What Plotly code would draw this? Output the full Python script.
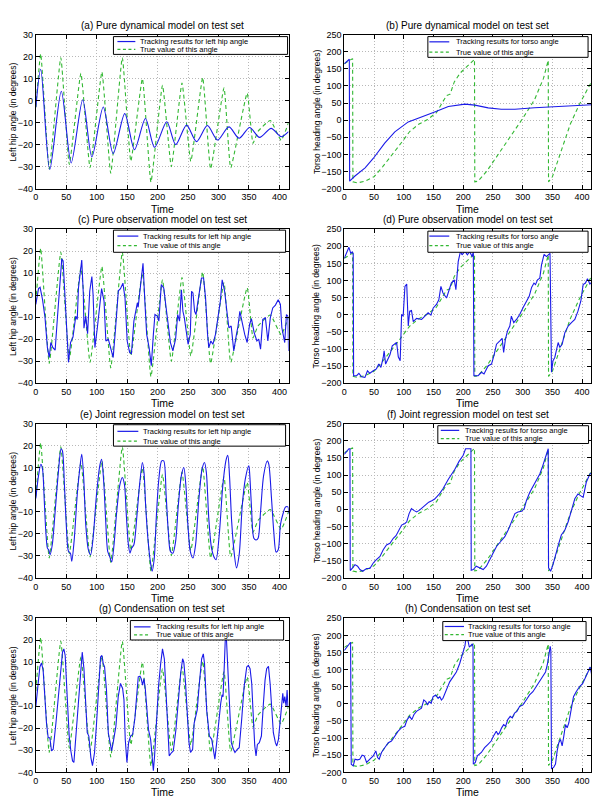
import plotly.graph_objects as go

# ---------------- data ----------------
X_TICKS = list(range(0, 401, 50))
HIP_TICKS = list(range(-40, 31, 10))
TORSO_TICKS = list(range(-200, 251, 50))
X_RANGE = [0, 415]
HIP_RANGE = [-40, 30]
TORSO_RANGE = [-200, 250]

TITLES = ["(a) Pure dynamical model on test set", "(b) Pure dynamical model on test set",
          "(c) Pure observation model on test set", "(d) Pure observation model on test set",
          "(e) Joint regression model on test set", "(f) Joint regression model on test set",
          "(g) Condensation on test set", "(h) Condensation on test set"]
HIP_LEGEND = ["Tracking results for left hip angle", "True value of this angle"]
TORSO_LEGEND = ["Tracking results for torso angle", "True value of this angle"]
HIP_YLABEL = "Left hip angle (in degrees)"
TORSO_YLABEL = "Torso heading angle (in degrees)"
X_LABEL = "Time"

# true left hip angle (same in a, c, e, g)
true_hip = [(0, -3), (8, 21.3), (22, -31), (41, 19.5), (55, -29), (74, 12.4), (89, -30.5),
            (108.5, 13), (123, -33), (142, 19.5), (156, -27.5), (175, 10), (189, -37),
            (208, 7), (222.5, -30), (240, 8), (254.5, -27.6), (274, 10.5), (287, -31),
            (309, 5.8), (320, -30.5), (347, 3.4), (356.6, -19.4), (364.7, -14),
            (385, -9), (402.7, -18), (415, -10)]

# true torso heading angle (same in b, d, f, h)
true_torso = [(0, 165), (6, 172), (14, 180), (14.5, -180), (22, -183), (35, -178), (50, -165),
              (65, -135), (80, -103), (95, -68), (110, -33), (125, -12), (140, 2), (155, 22),
              (165, 52), (172, 72), (178, 76), (185, 112), (195, 138), (208, 160), (219, 178),
              (219.5, -180), (225, -178), (240, -148), (260, -98), (280, -48), (300, 5),
              (320, 60), (335, 122), (343, 175), (343.5, -180), (350, -165), (365, -90),
              (380, -12), (395, 45), (405, 78), (415, 110)]

dyn_hip = [(0, -3), (8, 14.3), (22.8, -31.3), (41.8, 4.3), (58, -28.3), (77, 0.4), (92, -25.6),
           (110.7, -2.9), (127, -24.1), (146, -5.9), (162, -22.3), (180, -8.1), (195, -21.2),
           (215, -9.6), (229.6, -20), (247.5, -11.1), (263.8, -18.6), (281.7, -11.3),
           (298.5, -17.9), (317, -11.9), (333.8, -17.1), (351, -12.2), (367.4, -16.7),
           (386.4, -12.6), (402.7, -16.4), (415, -14.1)]

dyn_torso = [(0, 165), (8.5, 178), (9, -178), (18, -163), (35, -139), (49, -111), (68, -67),
             (85, -34), (107.6, -5), (124, 5), (152, 24), (175, 40), (203, 47), (219.6, 44),
             (242, 36), (264, 32), (287, 32), (320, 36.5), (354, 40), (417, 45)]

obs_hip = [(0, -4.2), (4.4, 3), (7, 3.6), (11, -2), (15, -10), (19, -23.8), (22, -28.3),
           (24.6, -21.5), (28, -23.8), (31.7, -25), (35.5, -10), (39, 4.8), (42.6, 16.5),
           (44.8, 15.6), (48, -2.7), (51, -22), (53.6, -30.5), (57, -21.5), (61, -19),
           (65.6, -9.5), (68, -11), (70, 3.3), (75.4, 16), (78, 0.3), (79, -15), (82, -9.5),
           (85, -17.5), (88.5, 1.8), (92, 8.5), (94, 0.3), (97, -23.8), (101, -14.8),
           (105, -5.8), (108, 3), (112, -2.7), (115, -20.8), (119, -20), (123, -23.8),
           (127, -28.3), (131, -14.8), (135.5, 2), (139, 3), (143, 5.5), (146.4, -1.2),
           (150, -20.8), (154, -26), (157, -26.5), (161, -11.8), (166.7, -3.5), (168, -5.5),
           (172, 6.3), (176, 14.5), (179, -2.7), (182, -17.8), (186, -23.8), (189.6, -32),
           (193, -17.8), (195.6, -8.8), (199.5, -9.5), (202, -11.8), (206, 4.8), (210, 3.3),
           (214, -5.8), (217.5, -13.3), (221, -21.5), (225, -25.3), (229.5, -20),
           (233, -8.8), (236, -11.8), (239, 2.5), (241.5, -7.3), (243.7, -10), (247, -16.3),
           (250, -22.3), (253.6, -17.8), (255.7, 1.8), (258, 1), (260.7, -7.3), (263, -8.8),
           (268, 0.3), (272, 7.8), (275.4, 7.8), (278.7, -1.2), (282, -17.8), (284, -23.8),
           (287.4, -20.8), (290.7, -22.3), (295, -17.8), (299.5, -10.3), (303, -2.7),
           (306, 7), (310, 1.8), (314, -8), (317, -14.8), (320.8, -14), (325, -25.3),
           (329, -18.5), (332, -14), (335, -7.3), (339, -13.3), (343, -17.8), (347, -21.5),
           (351, -13.3), (354, -10.6), (358.5, -17), (363, -20.8), (366, -20), (369, -24.5),
           (372.7, -11), (377, -10.3), (381, -20.8), (385, -10.3), (389, -5.8),
           (393.4, -4.5), (398, -2.1), (401.6, -4.2), (404, -14.8), (408.7, -21.5),
           (411.5, -8.8), (414, -9.5), (415, -25.3)]

obs_torso = [(0, 165), (4, 184), (7.8, 197), (11, 179.5), (13.4, 184), (15, 179.5), (15.7, -178),
             (20.7, -178), (24.6, -171), (29, -181), (34.7, -183), (39, -163.6), (43, -171),
             (48.7, -163.6), (54, -158), (58, -144), (61.6, -153.6), (65.5, -124.7),
             (67, -105), (69.5, -144), (72.8, -132), (76.8, -117), (80.7, -91), (85, -86),
             (88, -81), (90.8, -122.6), (94, -134), (96.4, 1), (99, -4), (102, 83),
             (105, 89.7), (107.6, -33), (110, 10.5), (113, 12.5), (116, -20), (121.6, -10.7),
             (130, -13.6), (135.6, -4), (141, 5.7), (145.7, -1), (149.6, 20), (155, 30),
             (159, 44), (162.5, 83), (166, 63.6), (172, 49), (176, 73), (180, 92.6),
             (185, 102), (187.7, 73), (191.6, 155), (195.5, 186), (198, 175), (203, 186),
             (207, 175), (211, 184), (215, 170), (217, 184), (218, -178), (225, -178),
             (230.8, -168), (235, -173), (242, -149), (247.6, -144), (252, -117), (256, -86),
             (261.6, -76), (265.5, -68.6), (268, -110), (271, -71.6), (274.5, -47),
             (278.4, -33), (281, -4), (285, -23), (289.6, -13.6), (295, 1), (301, 22),
             (306.4, 39.5), (311, 54), (315, 80), (319, 92.6), (321.6, 88), (325, 102),
             (328.8, 107), (331.7, 145.7), (336, 176.6), (340, 170), (344, 176.6),
             (346, 179.5), (348.5, -168), (351, -134), (354, -124.7), (357, -95.7),
             (359.7, -81), (362.5, -95.7), (366.4, -86), (371, -52), (376.5, -33), (382, -23),
             (387.7, -13.6), (393, 10.5), (397.8, 39.5), (401.7, 88), (405.6, 92.6),
             (409, 105), (413, 89.7), (417, 97)]

joint_hip = [(0, -4), (4.4, 6.4), (8.2, 11.6), (11, 9.4), (13.7, -4), (16.4, -19), (19, -26.5),
             (21, -27.3), (23.5, -29.5), (27, -25), (31.7, -10), (37, 7.9), (41.5, 18.6),
             (43.7, 17.6), (47, 1.9), (50, -16), (53.6, -28), (56.8, -28.8), (59, -32.5),
             (62.8, -23.5), (68.3, -1.1), (72.7, 10.9), (75.4, 16.1), (78.7, 4.9), (82, -16),
             (86.3, -27.3), (90, -29.5), (94, -22), (99.5, -2.6), (105, 10.9), (108, 13.8),
             (111.5, 3.4), (114.8, -14.6), (118, -28), (121.3, -30.3), (124.6, -32.8),
             (128.4, -25), (132.8, -10), (137.7, 1.9), (142, 5.6), (145.4, 2.6),
             (148.6, -11.6), (152, -25), (154.6, -28.8), (157.4, -26.5), (161, -25),
             (165.6, -13), (170.5, 2.6), (175, 12.4), (177.6, 7.9), (180.3, -7), (184, -22),
             (188, -32.5), (191, -37), (194.5, -31), (198, -11.6), (202, 4.9), (206.6, 13.1),
             (210, 13.1), (214, -2.6), (217.5, -19), (221, -28), (225, -28.8), (229.5, -23.5),
             (234, -7), (239, 6.4), (243, 10.1), (246.4, 1.9), (249.7, -16), (253.6, -28),
             (258, -31), (262.3, -25), (267.8, -4), (273, 9.4), (277, 12.4), (280, 7.9),
             (284, -13), (288.5, -26.5), (293.4, -31), (296, -31.8), (301.6, -19), (307, 1.9),
             (312.6, 13.8), (315.3, 15.6), (318, 6.4), (321.6, -14.6), (326, -29.5),
             (329.5, -35.5), (333.9, -29.5), (339, -7), (344, 4.9), (349.7, 10.9),
             (351, 7.9), (354, -7), (358, -22), (361.7, -22.8), (365, -22), (369, -10),
             (374, 6.4), (380, 13.1), (382.5, 11.6), (387, -4), (390.7, -19), (394.5, -28.3),
             (398, -27.3), (401.6, -16), (406, -10.8), (410, -7.8), (414, -7.8), (415, -10.8)]

joint_torso = [(0, 160.6), (4, 170), (7.8, 177), (9.5, 177), (10, -179), (14, -171), (18, -161.5),
               (22.4, -166), (26.3, -176), (30.8, -181), (37.5, -173), (43, -173),
               (48.7, -156.7), (54, -147), (60, -137.5), (65.5, -118), (71, -104), (76.8, -99),
               (82.4, -84.6), (87, -77), (90.8, -63.5), (96.4, -46), (102, -41.3),
               (105, -36.5), (109, -12.5), (113, 2), (117, -3), (121.6, -7.7), (126, -3),
               (131, 3.8), (136.7, 13.5), (142, 21), (148, 26), (152, 30), (160, 45),
               (166, 60), (175, 88), (186, 117), (193, 140), (200, 158), (204, 177),
               (213, 177), (213.5, -178), (217, -176), (222, -166), (228, -171),
               (233.6, -176), (239, -166), (245, -147), (250, -128), (256, -108.6), (263, -94),
               (270, -80), (275.6, -60.6), (281, -36.5), (287, -12.5), (292, -7.7),
               (298, -5.8), (302.5, 2), (306.4, 26), (312, 50), (317.6, 69), (323, 83.7),
               (328.8, 103), (332.8, 122), (337.3, 146), (341, 165), (343, 177),
               (343.5, -171), (347, -181), (351, -161.5), (355, -132.7), (360, -104),
               (365, -75), (371, -60.6), (376.5, -36.5), (382, -3), (387.7, 30.8), (393, 45),
               (397, 40), (401.7, 35), (407, 79), (413, 103), (417, 107.7)]

cond_hip = [(0, -10), (3.8, 0.4), (6.6, 7.9), (9.3, 9.7), (12, 6.4), (14.8, -5.6), (17.5, -17.6),
            (20.3, -24.3), (23, -24.3), (25.8, -30.3), (28.5, -29.5), (33, -17.6), (36.7, -5.6),
            (40.5, 5.6), (43.8, 14.6), (46, 16.1), (48.2, 13.1), (51.5, -5.6), (54.8, -23.5),
            (57.5, -30.3), (60.3, -34.8), (62.5, -35.5), (65.8, -23.5), (69.6, -5.6),
            (73.4, 6.4), (76.2, 14.6), (79, 7.1), (81, -5.6), (84.4, -22), (87, -23.5),
            (90.4, -33.3), (93, -37), (96.4, -31), (99.7, -17.6), (103, 0.4), (106.3, 12.4),
            (108.5, 13.1), (110.7, 9.4), (112.9, 7.9), (116, -2.6), (119, -22), (121.6, -26.5),
            (124.4, -30.3), (127, -26.5), (131.5, -19), (135.3, -5.6), (139, 0.4),
            (142.5, -1.9), (144.7, -7), (146.8, -25), (149.6, -35.5), (152.3, -26.5),
            (155.6, -23.5), (159, -22.8), (162.7, -15.3), (165.5, -5.6), (168.2, 3.4),
            (171, 3.7), (173, 2.6), (175.3, -0.4), (177.5, 2.6), (179.7, -1.9), (182, -10),
            (185, -20.6), (188.5, -25), (190.7, -31.8), (193, -39.2), (195, -32.5),
            (198.4, -13), (201.6, -0.4), (205, 9.4), (208, 16.1), (211, 11.6), (213.7, -5.6),
            (216.4, -20.6), (219, -32.5), (223, -31), (225.7, -30.3), (230, -20.6),
            (234, -5.6), (237.8, 4.9), (241, 11.6), (243, 10.1), (245.5, 1.9), (248.8, -17.6),
            (251.5, -26.5), (254, -31), (257.5, -29.5), (260, -17.6), (263, -13), (265, -11.6),
            (268.5, 0.4), (272.3, 11.6), (275, 13.8), (277, 9.4), (280.5, -11.6),
            (285, -23.5), (288.8, -25), (291.5, -31), (294, -34), (297, -26.5), (300, -17.6),
            (303.6, -8.6), (305.8, -4.8), (307.4, -5.6), (309.6, 9.4), (311, 19.8),
            (313, 20.6), (315, 9.4), (317.8, -13), (321, -26.5), (324.4, -29.5), (327, -31),
            (331, -29.5), (334, -28.8), (338, -16), (342, -1.1), (346.3, 7.9), (349, 8.6),
            (351.8, 7.1), (354.5, 0.4), (357.3, -16), (359.5, -28), (361.6, -32.5),
            (363.8, -27.3), (367, -26.5), (370.4, -23.5), (373.7, -8.6), (376.4, 1.9),
            (379, 7.1), (382, 8.2), (384.7, 0.4), (387.4, -13), (390, -22), (393.4, -26.5),
            (395.6, -28), (398.4, -25), (401, -17.6), (403.8, -11.6), (405.5, -4.1),
            (407, -8.6), (408.8, -5.6), (411, -10), (412.6, -2.6), (414, -10)]

cond_torso = [(0, 155.8), (4, 165), (7.8, 175), (10.6, 180), (11.7, -176), (15, -181),
              (18, -161.5), (22, -163.5), (26, -161.5), (30, -150), (33.6, -152), (37.5, -171),
              (43, -161.5), (48.7, -152), (53, -137.5), (56, -156.7), (58.7, -161.5),
              (62.6, -142), (68, -128), (74, -113.5), (79.4, -108.6), (85, -94), (90.6, -79.8),
              (96, -70), (101.8, -65.4), (105.7, -46), (110, -36.5), (113.6, -46),
              (117, -31.7), (121.4, -22), (125.9, -17.3), (129.8, -12.5), (133.7, 11.5),
              (137, 6.7), (140, -3), (142.7, 6.7), (146, 2), (149.4, 21), (153.8, 26),
              (157.8, 16.3), (160.6, 21), (163.4, 11.5), (166, 16.3), (171.7, 40.4),
              (177.3, 64.4), (183, 79), (188.5, 93.3), (194, 117.3), (199.7, 151), (203, 170),
              (205.3, 200), (207.5, 189.4), (210.3, 165.4), (213, 170), (215.4, 175),
              (216.5, 167), (217, -176), (220.4, -171), (223.8, -152), (230.5, -142),
              (236, -128), (241.7, -118), (247, -108.6), (251, -94), (255.7, -79.8),
              (258.5, -89.4), (261, -84.6), (264.6, -70), (268, -60.6), (271.3, -65.4),
              (275, -46), (279, -36.5), (282.5, -41.3), (286.4, -27), (290.3, -22),
              (294.8, -7.7), (300.4, -3), (306, 11.5), (311.6, 26), (317.2, 35.6), (322.8, 50),
              (328.4, 64.4), (334, 79), (338.5, 93.3), (341.8, 117.3), (344, 141.3),
              (346.3, 168), (347.4, 156), (348.5, -190), (352, -185.6), (355.2, -176),
              (358, -137.5), (360.8, -113.5), (363.6, -104), (366.4, -123), (369.2, -94),
              (372, -60.6), (374.8, -70), (377.6, -55.8), (381.5, -17.3), (385.5, 21),
              (390, 35.6), (395.5, 50), (401, 59.6), (406.7, 79), (411.2, 98), (413.4, 107.7),
              (415.7, 88.5)]

# ---------------- layout helpers ----------------
W, H = 600, 805
COL_X = [(33, 287), (343, 591)]
ROW_Y = [(30, 186), (227, 383), (424, 580), (621, 777)]
FONT = "Liberation Sans, Arial, Helvetica, sans-serif"
BLUE = "#1a1ae8"
GREEN = "#33b833"

# (tracking series, kind, spline?)
PANELS = [(dyn_hip, "hip", True), (dyn_torso, "torso", False),
          (obs_hip, "hip", False), (obs_torso, "torso", False),
          (joint_hip, "hip", True), (joint_torso, "torso", False),
          (cond_hip, "hip", False), (cond_torso, "torso", False)]

# legend boxes in px relative to plot (left, right, top, bottom), sample x0,x1, text x, row ys
LEG = [
    (78, 253, 2, 20, 82, 100, 103, 7, 15),
    (84, 245, 2, 23, 85.5, 105.5, 110, 7.3, 17.7),
    (78, 251, 1, 23.4, 82, 103, 106, 7, 16.7),
    (84, 245, 2, 23.4, 85.5, 105.5, 110, 7, 16.7),
    (78, 251, 1, 22.7, 82, 103, 106, 7.7, 17.7),
    (94, 245.5, 2, 20, 97, 115.5, 119, 6.7, 15),
    (95, 249, 2.3, 22, 98.7, 115.3, 118.7, 8.7, 16.7),
    (99, 243, 3.3, 22.6, 101, 120.3, 122, 8.3, 16.6),
]

fig = go.Figure()
layout = dict(width=W, height=H, margin=dict(l=0, r=0, t=0, b=0), paper_bgcolor="white",
              plot_bgcolor="white", showlegend=False, font=dict(family=FONT, color="black"))
annotations, shapes = [], []

for i, (series, kind, smooth) in enumerate(PANELS):
    n = i + 1
    sfx = "" if n == 1 else str(n)
    row, col = divmod(i, 2)
    x0p, x1p = COL_X[col]
    y0p, y1p = ROW_Y[row]
    pw, ph = x1p - x0p, y1p - y0p
    true_series = true_hip if kind == "hip" else true_torso
    fig.add_trace(go.Scatter(x=[p[0] for p in true_series], y=[p[1] for p in true_series],
                             mode="lines", xaxis="x" + sfx, yaxis="y" + sfx,
                             line=dict(color=GREEN, width=1.1, dash="4px,3px",
                                       shape="spline" if kind == "hip" else "linear",
                                       smoothing=0.4)))
    fig.add_trace(go.Scatter(x=[p[0] for p in series], y=[p[1] for p in series],
                             mode="lines", xaxis="x" + sfx, yaxis="y" + sfx,
                             line=dict(color=BLUE, width=1.1,
                                       shape="spline" if smooth else "linear",
                                       smoothing=0.8)))
    common = dict(ticks="inside", ticklen=4, tickcolor="black", showline=True, linecolor="black",
                  linewidth=1, mirror="ticks", showgrid=True, gridcolor="#b8b8b8",
                  griddash="1px,2px", gridwidth=1, zeroline=False,
                  tickfont=dict(size=9, color="black", family=FONT))
    layout["xaxis" + sfx] = dict(common, domain=[x0p / W, x1p / W], range=X_RANGE,
                                 tickvals=X_TICKS, anchor="y" + sfx)
    layout["yaxis" + sfx] = dict(common, domain=[1 - y1p / H, 1 - y0p / H],
                                 range=HIP_RANGE if kind == "hip" else TORSO_RANGE,
                                 tickvals=HIP_TICKS if kind == "hip" else TORSO_TICKS,
                                 anchor="x" + sfx)
    xr, yr = "x" + sfx + " domain", "y" + sfx + " domain"
    # title
    annotations.append(dict(text=TITLES[i], xref=xr, yref=yr, x=0.5, y=1, xanchor="center",
                            yanchor="bottom", yshift=2, showarrow=False,
                            font=dict(size=10, family=FONT)))
    annotations.append(dict(text=X_LABEL, xref=xr, yref=yr, x=0.5, y=0, xanchor="center",
                            yanchor="top", yshift=-12, showarrow=False,
                            font=dict(size=10.5, family=FONT)))
    annotations.append(dict(text=HIP_YLABEL if kind == "hip" else TORSO_YLABEL, xref=xr,
                            yref=yr, x=0, y=0.5, xanchor="center", yanchor="middle",
                            xshift=-23 if col == 0 else -28, textangle=-90, showarrow=False,
                            font=dict(size=8.5, family=FONT)))
    # custom legend
    bl, br, bt, bb, sx0, sx1, tx, r1, r2 = LEG[i]
    shapes.append(dict(type="rect", xref=xr, yref=yr, x0=bl / pw, x1=br / pw,
                       y0=1 - bb / ph, y1=1 - bt / ph, fillcolor="white",
                       line=dict(color="black", width=1), layer="above"))
    labels = HIP_LEGEND if kind == "hip" else TORSO_LEGEND
    for ry, colr, dash, lab in ((r1, BLUE, "solid", labels[0]), (r2, GREEN, "3px,2.5px", labels[1])):
        shapes.append(dict(type="line", xref=xr, yref=yr, x0=sx0 / pw, x1=sx1 / pw,
                           y0=1 - ry / ph, y1=1 - ry / ph, layer="above",
                           line=dict(color=colr, width=1.2, dash=dash)))
        annotations.append(dict(text=lab, xref=xr, yref=yr, x=tx / pw, y=1 - ry / ph,
                                xanchor="left", yanchor="middle", showarrow=False,
                                font=dict(size=7.5, family=FONT)))

layout["annotations"] = annotations
layout["shapes"] = shapes
fig.update_layout(**layout)
fig.write_html("out.html")
